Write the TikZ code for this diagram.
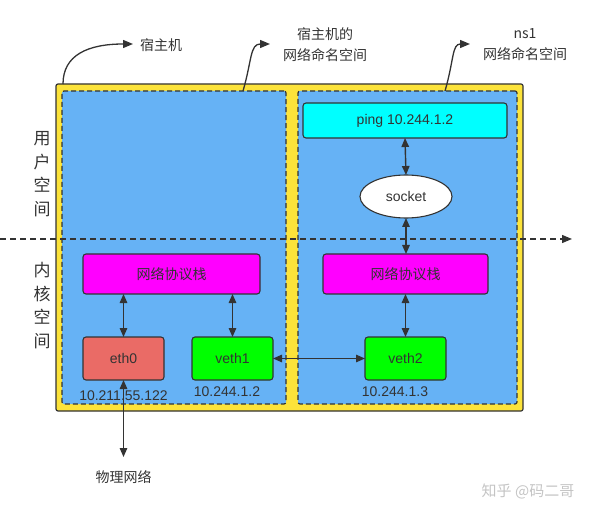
\documentclass[tikz,border=0pt]{standalone}
\usepackage{fontspec}
\setmainfont{Liberation Sans}
\newfontfamily\cjk{Noto Sans CJK SC}
\usetikzlibrary{arrows.meta,shapes.geometric}
\definecolor{hostyellow}{HTML}{FCE33A}
\definecolor{nsblue}{HTML}{66B2F5}
\definecolor{pingcyan}{HTML}{00FFFF}
\definecolor{stackmag}{HTML}{FF00FF}
\definecolor{ethred}{HTML}{EA6B66}
\definecolor{vethgreen}{HTML}{00FF00}
\definecolor{edge}{HTML}{333333}
\definecolor{wm}{HTML}{C4C4C4}
\begin{document}
\begin{tikzpicture}[x=1pt,y=-1pt,
  every node/.style={inner sep=0pt, outer sep=0pt, text=edge},
  hostbox/.style={draw=edge, line width=1.2pt, fill=hostyellow, rounded corners=2pt},
  nsbox/.style={draw=edge, line width=1.2pt, dash pattern=on 5pt off 3pt, fill=nsblue, rounded corners=2pt},
  devbox/.style={draw=edge, line width=1.1pt, rounded corners=3pt, font=\fontsize{14}{16}\selectfont},
  tip/.style={Triangle[length=9pt,width=7.5pt]},
  dbl/.style={draw=edge, line width=1.4pt, {Triangle[length=9pt,width=7.5pt]}-{Triangle[length=9pt,width=7.5pt]}},
  annot/.style={draw=edge, line width=1.3pt, -{Triangle[length=10pt,width=8pt]}},
  lbl/.style={font=\fontsize{14}{21}\selectfont\cjk, align=center},
  ip/.style={font=\fontsize{14}{16}\selectfont},
  side/.style={font=\fontsize{17}{23.5}\selectfont\cjk, align=center}
]
\useasboundingbox (0,0) rectangle (600,513);

% containers
\node[hostbox, minimum width=467pt, minimum height=327pt] (host) at (289.5,247.5) {};
\node[nsbox, minimum width=224pt, minimum height=313pt] (lns) at (174,247.5) {};
\node[nsbox, minimum width=219pt, minimum height=313pt] (rns) at (407.5,247.5) {};

% user space
\node[devbox, fill=pingcyan, minimum width=204pt, minimum height=35pt] (ping) at (405,120.5) {ping 10.244.1.2};
\node[draw=edge, line width=1.1pt, fill=white, ellipse, minimum width=92pt, minimum height=43pt, font=\fontsize{14}{16}\selectfont] (sock) at (406,196.5) {socket};

% kernel space
\node[devbox, fill=stackmag, minimum width=177pt, minimum height=40pt, font=\fontsize{14}{16}\selectfont\cjk] (lstack) at (171.5,274) {网络协议栈};
\node[devbox, fill=stackmag, minimum width=165pt, minimum height=40pt, font=\fontsize{14}{16}\selectfont\cjk] (rstack) at (405.5,274) {网络协议栈};
\node[devbox, fill=ethred, minimum width=81pt, minimum height=43pt] (eth0) at (123.5,358.5) {eth0};
\node[devbox, fill=vethgreen, minimum width=81pt, minimum height=43pt] (veth1) at (232.5,358.5) {veth1};
\node[devbox, fill=vethgreen, minimum width=81pt, minimum height=43pt] (veth2) at (405.5,358.5) {veth2};

% ip labels
\node[ip] (ip0) at (123.5,396) {10.211.55.122};
\node[ip] (ip1) at (227,392) {10.244.1.2};
\node[ip] (ip2) at (395,392) {10.244.1.3};

% user / kernel divider
\coordinate (dl) at (0,239);
\coordinate (dr) at (572,239);
\draw[draw=edge, line width=1.2pt, dash pattern=on 6pt off 4pt, -{Triangle[length=10pt,width=8pt]}] (dl) -- (dr);

% connectors
\draw[dbl] (ping.south) -- (sock.north);
\draw[dbl] (sock.south) -- (sock.south |- rstack.north);
\draw[dbl] (rstack.south) -- (rstack.south |- veth2.north);
\draw[dbl] (eth0.north) -- (eth0.north |- lstack.south);
\draw[dbl] (veth1.north) -- (veth1.north |- lstack.south);
\draw[dbl] (veth1.east) -- (veth2.west);
\coordinate (phystip) at (123.5,457);
\draw[dbl] (eth0.south) -- (phystip);
\node[lbl] (phys) at (123.5,477) {物理网络};

% side labels
\node[side] (user) at (42,174) {用\\户\\空\\间};
\node[side] (kern) at (42,305.5) {内\\核\\空\\间};

% annotations
\node[lbl] (thost) at (161,45) {宿主机};
\node[lbl] (thns) at (325,45) {宿主机的\\网络命名空间};
\node[lbl] (tns1) at (525,45) {ns1\\网络命名空间};
\coordinate (s1) at (63,84);
\coordinate (e1) at (133,44);
\coordinate (s2) at (243,91);
\coordinate (e2) at (270,44);
\coordinate (s3) at (445,91);
\coordinate (e3) at (470,44);
\draw[annot] (s1) .. controls (63,55) and (88,44) .. (e1);
\draw[annot] (s2) .. controls (252,60) and (250,44) .. (e2);
\draw[annot] (s3) .. controls (454,60) and (452,44) .. (e3);

% watermark
\node[font=\fontsize{15}{17}\selectfont\cjk, text=wm] (wmark) at (528,491) {知乎 @码二哥};
\end{tikzpicture}
\end{document}
